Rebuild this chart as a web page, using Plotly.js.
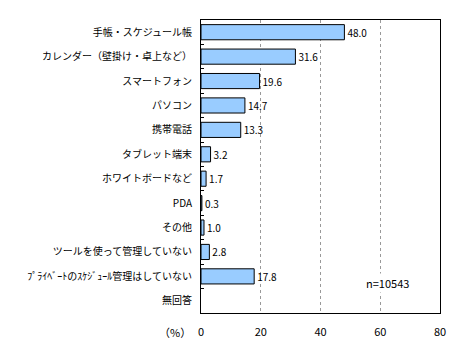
<!DOCTYPE html>
<html><head><meta charset="utf-8">
<script src="https://cdn.plot.ly/plotly-3.0.1.min.js"></script>
<style>body{margin:0;background:#fff}</style>
</head><body><div id="chart" style="width:459px;height:358px"></div>
<script>
const categories = ["手帳・スケジュール帳","カレンダー（壁掛け・卓上など）","スマートフォン","パソコン","携帯電話","タブレット端末","ホワイトボードなど","PDA","その他","ツールを使って管理していない","ﾌﾟﾗｲﾍﾞｰﾄのｽｹｼﾞｭｰﾙ管理はしていない","無回答"];
const values = [48.0,31.6,19.6,14.7,13.3,3.2,1.7,0.3,1.0,2.8,17.8,null];
const xTicks = [0,20,40,60,80];
const nLabel = "n=10543";
const unitLabel = "（%）";

const font = "'Noto Sans CJK JP', sans-serif";
const trace = {
  type: "bar", orientation: "h",
  y: categories, x: values,
  marker: {color: "#99CCFF", line: {color: "#000", width: 1}},
  text: values.map(v => v == null ? "" : v.toFixed(1)),
  textposition: "outside",
  textfont: {family: font, size: 10, color: "#000"},
  cliponaxis: false,
  hoverinfo: "none"
};
const layout = {
  width: 459, height: 358,
  margin: {l: 201, r: 19, t: 20, b: 45},
  paper_bgcolor: "#fff", plot_bgcolor: "#fff",
  font: {family: font, size: 10, color: "#000"},
  showlegend: false,
  bargap: 0.38,
  xaxis: {
    range: [0, 80], tickvals: xTicks, ticktext: xTicks.map(String),
    showgrid: true, gridcolor: "#999", griddash: "3px,3px", gridwidth: 1,
    showline: true, linecolor: "#000", linewidth: 1, mirror: true,
    ticks: "", zeroline: false, tickfont: {family: font, size: 11},
    ticklabelstandoff: 9,
    fixedrange: true
  },
  yaxis: {
    autorange: "reversed", type: "category",
    showline: true, linecolor: "#000", linewidth: 1, mirror: true,
    ticks: "inside", ticklen: 3, tickcolor: "#000", tickson: "boundaries",
    showgrid: false, ticklabelstandoff: 6,
    tickfont: {family: font, size: 10},
    fixedrange: true
  },
  annotations: [
    {text: nLabel, xref: "x", yref: "y", x: 62.5, y: categories[10], yshift: -7,
     xanchor: "center", showarrow: false, font: {family: font, size: 11}, bgcolor: "#fff"},
    {text: unitLabel, xref: "paper", yref: "paper", x: -0.035, y: 0, yshift: -19,
     xanchor: "right", yanchor: "middle", showarrow: false, font: {family: font, size: 11}}
  ]
};
Plotly.newPlot("chart", [trace], layout, {displayModeBar: false, staticPlot: true});
</script></body></html>
